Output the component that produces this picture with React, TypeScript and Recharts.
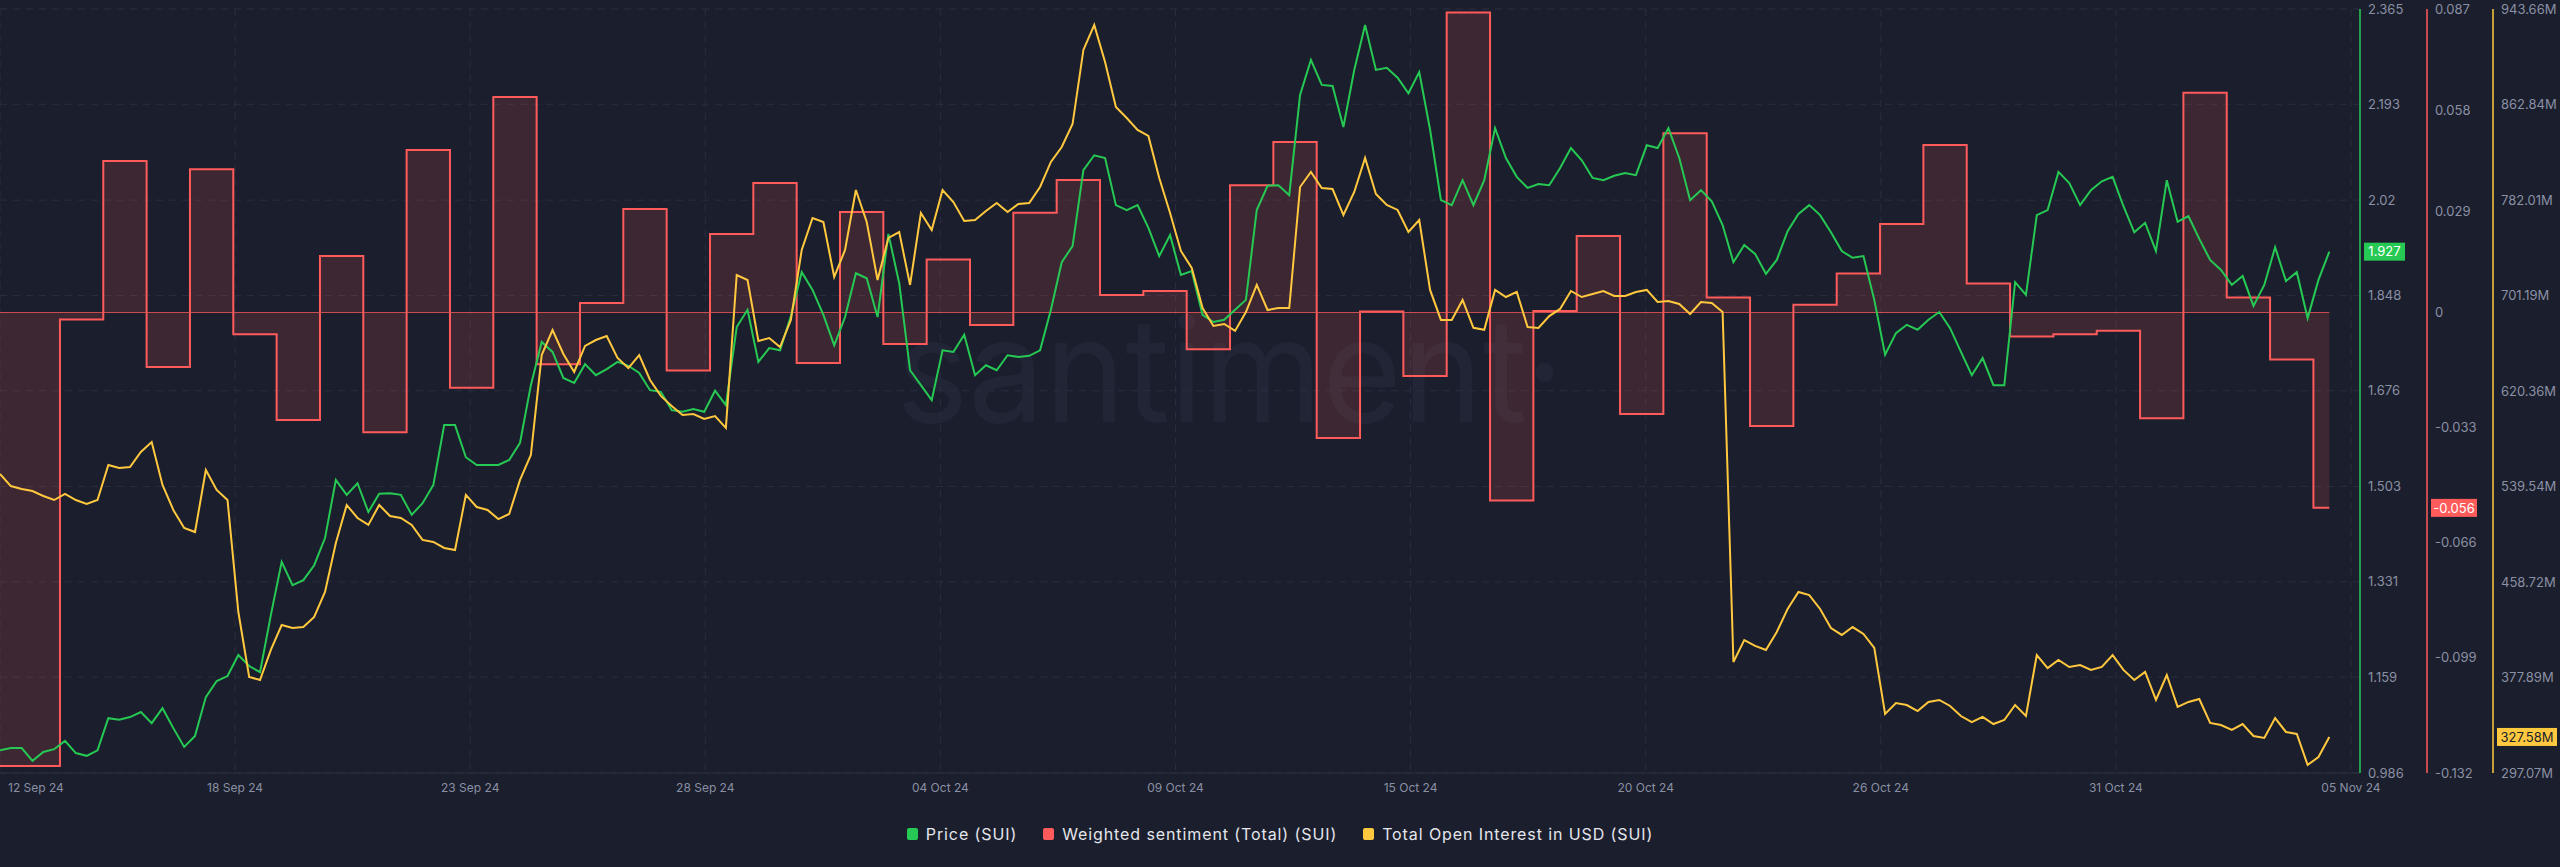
import React from "react";
import {
  ComposedChart,
  Line,
  Area,
  XAxis,
  YAxis,
  CartesianGrid,
  ReferenceLine,
} from "recharts";

const BG = "#1b1e2c";
const GRID = "#2a2e40";
const TICK = "#8a90a4";
const GREEN = "#26c953";
const RED = "#ff5b5b";
const YELLOW = "#ffc83e";
const FONT = "Inter, 'Noto Sans', sans-serif";

document.body.style.margin = "0";
document.body.style.background = BG;

// x axis runs in hours from the left edge of the plot
const X_END_H = 1307;
const TICK_STEP_H = 130.2;
const DATE_LABELS = [
  "12 Sep 24", "18 Sep 24", "23 Sep 24", "28 Sep 24", "04 Oct 24", "09 Oct 24",
  "15 Oct 24", "20 Oct 24", "26 Oct 24", "31 Oct 24", "05 Nov 24",
];

const PRICE_TICKS = [2.365, 2.193, 2.02, 1.848, 1.676, 1.503, 1.331, 1.159, 0.986];
const SENT_TICKS = [0.087, 0.058, 0.029, 0, -0.033, -0.066, -0.099, -0.132];
const OI_TICKS = [943.66, 862.84, 782.01, 701.19, 620.36, 539.54, 458.72, 377.89, 297.07];

// price (USD), one reading every 6 hours
const STEP_H = 6;
const PRICE = [
  1.027, 1.031, 1.031, 1.008, 1.024, 1.029, 1.044, 1.022, 1.017, 1.027,
  1.085, 1.082, 1.087, 1.096, 1.076, 1.103, 1.067, 1.033, 1.053, 1.123,
  1.152, 1.161, 1.199, 1.179, 1.168, 1.271, 1.367, 1.325, 1.334, 1.361,
  1.41, 1.515, 1.488, 1.509, 1.457, 1.49, 1.491, 1.488, 1.452, 1.473,
  1.506, 1.614, 1.614, 1.556, 1.542, 1.542, 1.542, 1.551, 1.582, 1.686,
  1.764, 1.746, 1.699, 1.69, 1.724, 1.704, 1.715, 1.728, 1.721, 1.708,
  1.677, 1.674, 1.641, 1.638, 1.643, 1.638, 1.676, 1.65, 1.791, 1.822,
  1.728, 1.753, 1.749, 1.811, 1.89, 1.858, 1.813, 1.758, 1.809, 1.888,
  1.879, 1.809, 1.959, 1.87, 1.713, 1.686, 1.659, 1.749, 1.746, 1.777,
  1.704, 1.722, 1.713, 1.74, 1.737, 1.739, 1.749, 1.822, 1.908, 1.937,
  2.074, 2.101, 2.096, 2.011, 2.002, 2.011, 1.97, 1.919, 1.957, 1.885,
  1.892, 1.813, 1.8, 1.804, 1.822, 1.84, 2.002, 2.046, 2.047, 2.029,
  2.21, 2.273, 2.228, 2.226, 2.152, 2.255, 2.336, 2.255, 2.259, 2.241,
  2.213, 2.251, 2.147, 2.02, 2.011, 2.056, 2.011, 2.056, 2.15, 2.096,
  2.062, 2.042, 2.049, 2.047, 2.078, 2.114, 2.092, 2.06, 2.056, 2.064,
  2.069, 2.065, 2.119, 2.114, 2.15, 2.096, 2.02, 2.038, 2.018, 1.975,
  1.908, 1.939, 1.923, 1.887, 1.912, 1.964, 1.995, 2.011, 1.993, 1.962,
  1.928, 1.916, 1.919, 1.84, 1.741, 1.78, 1.795, 1.786, 1.804, 1.818,
  1.789, 1.746, 1.704, 1.735, 1.686, 1.686, 1.872, 1.849, 1.993, 2.002,
  2.071, 2.051, 2.011, 2.038, 2.054, 2.062, 2.009, 1.962, 1.979, 1.928,
  2.056, 1.981, 1.991, 1.95, 1.912, 1.894, 1.867, 1.883, 1.829, 1.867,
  1.935, 1.874, 1.89, 1.807, 1.876, 1.927,
];

// total open interest (USD millions), same 6-hour steps
const OPEN_INTEREST = [
  550.1, 539.9, 537.4, 535.7, 531.5, 528.1, 533.2, 528.1, 524.7, 528.1,
  557.7, 555.2, 556.0, 568.8, 577.2, 540.8, 519.7, 504.4, 501.0, 553.5,
  536.6, 528.1, 433.3, 378.3, 375.8, 401.2, 422.3, 419.8, 420.6, 429.1,
  450.3, 491.7, 523.9, 512.9, 507.0, 523.9, 514.6, 512.9, 507.0, 494.3,
  492.6, 487.5, 485.8, 532.4, 522.2, 519.7, 512.0, 516.3, 545.1, 566.2,
  650.8, 672.0, 651.7, 636.5, 658.5, 663.5, 666.9, 648.3, 639.8, 650.8,
  629.7, 616.2, 607.7, 600.1, 600.9, 596.7, 599.2, 589.1, 718.5, 714.3,
  662.7, 665.2, 657.6, 680.5, 739.7, 766.8, 763.4, 716.9, 739.7, 790.5,
  763.4, 714.3, 749.9, 754.9, 710.1, 771.0, 756.6, 790.5, 780.3, 764.2,
  765.1, 772.7, 779.5, 771.9, 778.6, 779.5, 793.0, 814.2, 826.9, 846.3,
  909.0, 930.1, 898.8, 860.7, 851.4, 841.3, 836.2, 800.6, 771.0, 738.9,
  724.5, 690.6, 675.4, 677.1, 671.2, 687.2, 710.1, 688.9, 690.6, 690.6,
  793.0, 805.7, 792.2, 791.3, 769.3, 788.8, 817.6, 787.1, 777.8, 773.6,
  754.9, 765.1, 705.9, 680.5, 680.5, 697.4, 673.9, 672.2, 705.9, 699.9,
  704.2, 674.5, 673.7, 683.8, 689.8, 705.0, 699.9, 702.5, 705.0, 700.8,
  700.8, 704.2, 705.9, 695.7, 696.5, 694.0, 685.5, 695.7, 694.9, 687.2,
  391.0, 409.6, 404.6, 401.2, 416.4, 435.9, 450.3, 447.7, 435.9, 419.8,
  413.9, 420.6, 414.7, 402.9, 347.0, 356.3, 354.6, 349.5, 357.2, 358.9,
  353.8, 345.3, 340.2, 344.5, 338.5, 341.9, 354.6, 345.3, 396.9, 385.9,
  392.7, 386.8, 388.5, 384.3, 386.8, 396.9, 384.3, 375.8, 382.6, 358.9,
  380.0, 353.0, 357.2, 359.7, 339.4, 337.7, 333.5, 338.5, 328.4, 326.7,
  343.6, 331.8, 330.1, 303.9, 310.6, 327.58,
];

// weighted sentiment, one value per day; first change comes 33.2h in
const SENT_FIRST_CHANGE_H = 33.2;
const SENT_END_H = 1290;
const SENTIMENT = [
  -0.130, -0.002, 0.0434, -0.0156, 0.0411, -0.0062, -0.0308, 0.0162, -0.0343, 0.0466,
  -0.0216, 0.0618, -0.0148, 0.0027, 0.0297, -0.0166, 0.0225, 0.0371, -0.0145, 0.0288,
  -0.009, 0.0152, -0.0036, 0.0286, 0.038, 0.005, 0.0062, -0.0105, 0.0365, 0.0489,
  -0.036, 0.0003, -0.0182, 0.086, -0.0539, 0.0004, 0.0219, -0.0291, 0.0514, 0.0043,
  -0.0325, 0.0022, 0.0112, 0.0254, 0.048, 0.0083, -0.0069, -0.0062, -0.0052, -0.0303,
  0.063, 0.0043, -0.0135, -0.056,
];

const priceData = PRICE.map((v, i) => ({ h: i * STEP_H, v }));
const oiData = OPEN_INTEREST.map((v, i) => ({ h: i * STEP_H, v }));
const sentData = SENTIMENT.map((v, i) => ({
  h: i === 0 ? 0 : SENT_FIRST_CHANGE_H + (i - 1) * 24,
  v,
}));
sentData.push({ h: SENT_END_H, v: SENTIMENT[SENTIMENT.length - 1] });

const xTicks = DATE_LABELS.map((_, i) => i * TICK_STEP_H);

const lastPrice = PRICE[PRICE.length - 1];
const lastSent = SENTIMENT[SENTIMENT.length - 1];
const lastOi = OPEN_INTEREST[OPEN_INTEREST.length - 1];

function XTick(props: any) {
  const { x, y, payload } = props;
  const idx = Math.round(payload.value / TICK_STEP_H);
  const first = idx === 0;
  return (
    <text
      x={first ? x + 8 : x}
      y={y}
      dy={11}
      textAnchor={first ? "start" : "middle"}
      fill={TICK}
      fontSize={12}
      fontFamily={FONT}
    >
      {DATE_LABELS[idx]}
    </text>
  );
}

function badge(text: string, bg: string, fg: string, dx: number, w: number) {
  return (props: any) => {
    const vb = props.viewBox;
    if (!vb) return null;
    const left = vb.x + vb.width + dx;
    return (
      <g>
        <rect x={left} y={vb.y - 9} width={w} height={18} fill={bg} />
        <text
          x={left + w / 2}
          y={vb.y}
          dy="0.36em"
          textAnchor="middle"
          fill={fg}
          fontSize={13}
          fontFamily={FONT}
        >
          {text}
        </text>
      </g>
    );
  };
}

const LEGEND = [
  { name: "Price (SUI)", color: GREEN },
  { name: "Weighted sentiment (Total) (SUI)", color: RED },
  { name: "Total Open Interest in USD (SUI)", color: YELLOW },
];

export default function App() {
  const yTick = { fill: TICK, fontSize: 13, fontFamily: FONT };
  return (
    <div style={{ position: "relative", width: 2560, height: 867, background: BG, overflow: "hidden" }}>
      <svg width={2560} height={867} style={{ position: "absolute", left: 0, top: 0 }}>
        <text
          x={896}
          y={422}
          fontSize={144}
          fontFamily="Inter, sans-serif"
          fill="#212536"
          textLength={668}
          lengthAdjust="spacingAndGlyphs"
        >
          santiment·
        </text>
      </svg>
      <div style={{ position: "absolute", left: 0, top: 0 }}>
        <ComposedChart width={2560} height={867} margin={{ top: 9, right: 0, left: 0, bottom: 64 }}>
          <CartesianGrid yAxisId="y1" stroke={GRID} strokeDasharray="7 6" />
          <XAxis
            dataKey="h"
            type="number"
            domain={[0, X_END_H]}
            ticks={xTicks}
            interval={0}
            allowDataOverflow
            height={30}
            tick={<XTick />}
            tickLine={false}
            axisLine={{ stroke: GRID }}
          />
          <YAxis
            yAxisId="y1"
            orientation="right"
            domain={[0.986, 2.365]}
            ticks={PRICE_TICKS}
            interval={0}
            allowDataOverflow
            width={67}
            tick={yTick}
            tickLine={false}
            axisLine={{ stroke: GREEN, strokeWidth: 1.5 }}
          />
          <YAxis
            yAxisId="y2"
            orientation="right"
            domain={[-0.132, 0.087]}
            ticks={SENT_TICKS}
            interval={0}
            allowDataOverflow
            width={66}
            tick={yTick}
            tickLine={false}
            axisLine={{ stroke: RED, strokeWidth: 1.5 }}
          />
          <YAxis
            yAxisId="y3"
            orientation="right"
            domain={[297.07, 943.66]}
            ticks={OI_TICKS}
            interval={0}
            allowDataOverflow
            width={67}
            tick={yTick}
            tickFormatter={(v: number) => `${v.toFixed(2)}M`}
            tickLine={false}
            axisLine={{ stroke: YELLOW, strokeWidth: 1.5 }}
          />
          <Area
            yAxisId="y2"
            data={sentData}
            dataKey="v"
            type="stepAfter"
            baseValue={0}
            stroke={RED}
            strokeWidth={2}
            fill={RED}
            fillOpacity={0.15}
            isAnimationActive={false}
          />
          <ReferenceLine
            yAxisId="y2"
            segment={[{ x: 0, y: 0 }, { x: SENT_END_H, y: 0 }]}
            stroke={RED}
            strokeOpacity={0.75}
            strokeWidth={1}
          />
          <Line
            yAxisId="y1"
            data={priceData}
            dataKey="v"
            type="linear"
            stroke={GREEN}
            strokeWidth={2}
            dot={false}
            isAnimationActive={false}
          />
          <Line
            yAxisId="y3"
            data={oiData}
            dataKey="v"
            type="linear"
            stroke={YELLOW}
            strokeWidth={2}
            dot={false}
            isAnimationActive={false}
          />
          <ReferenceLine yAxisId="y1" y={lastPrice} stroke="none" ifOverflow="visible"
            label={badge(lastPrice.toFixed(3), GREEN, "#ffffff", 4, 41)} />
          <ReferenceLine yAxisId="y2" y={lastSent} stroke="none" ifOverflow="visible"
            label={badge(lastSent.toFixed(3), RED, "#ffffff", 71, 46)} />
          <ReferenceLine yAxisId="y3" y={lastOi} stroke="none" ifOverflow="visible"
            label={badge(`${lastOi.toFixed(2)}M`, YELLOW, "#1b1e2c", 137, 60)} />
        </ComposedChart>
      </div>
      <div
        style={{
          position: "absolute",
          left: 0,
          top: 824,
          width: 2560,
          display: "flex",
          justifyContent: "center",
          gap: 26,
          fontFamily: FONT,
          fontSize: 16,
          letterSpacing: 0.9,
          color: "#e4e6ec",
        }}
      >
        {LEGEND.map((item) => (
          <div key={item.name} style={{ display: "flex", alignItems: "center", gap: 8 }}>
            <span style={{ width: 11, height: 12, background: item.color, borderRadius: 2, display: "inline-block" }} />
            <span>{item.name}</span>
          </div>
        ))}
      </div>
    </div>
  );
}
